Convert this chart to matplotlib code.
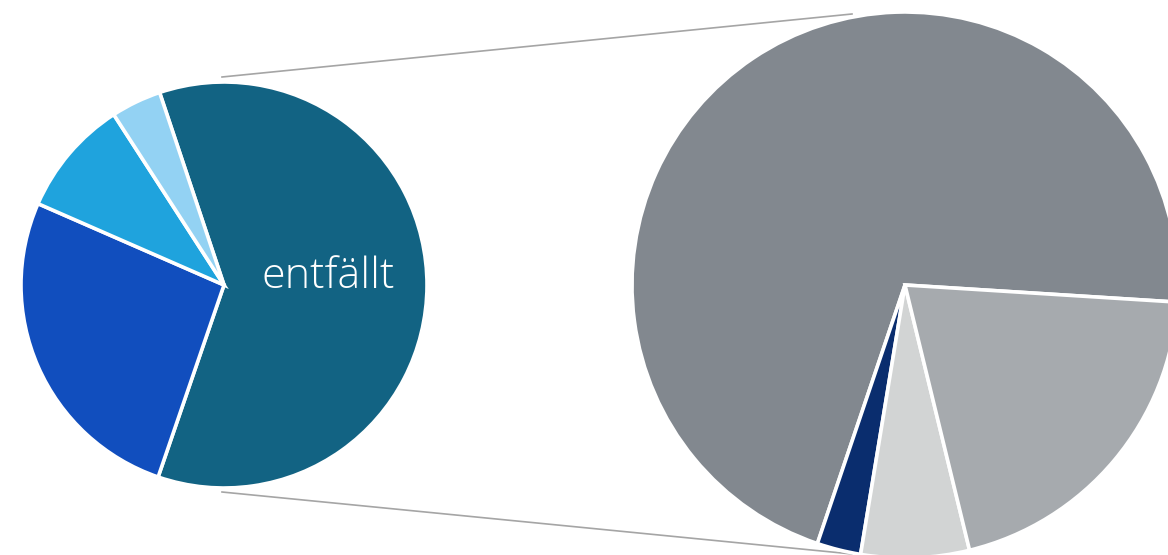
import matplotlib.pyplot as plt

# Left pie (main) shares, clockwise from the top
left_labels = ["entfällt", "Teil 2", "Teil 3", "Teil 4"]
left_values = [60.4, 26.3, 9.3, 4.0]
left_colors = ["#126383", "#114EBE", "#1FA3DD", "#93D2F3"]

# Right pie (breakdown) shares, counter-clockwise from the right
right_values = [70.8, 2.6, 6.4, 20.2]
right_colors = ["#82888F", "#0A2D6E", "#D2D4D4", "#A6AAAE"]

W, H = 1168, 555
fig = plt.figure(figsize=(W / 100, H / 100), dpi=100)
ax = fig.add_axes([0, 0, 1, 1])

wedge_style = dict(edgecolor="white", linewidth=2.6)

# connector lines between the two pies
ax.plot([222, 852], [H - 77, H - 14], color="#A5A5A5", lw=1.2, zorder=1)
ax.plot([222, 852], [H - 492, H - 554], color="#A5A5A5", lw=1.2, zorder=1)

ax.pie(left_values, colors=left_colors, center=(224, H - 285), radius=203,
       startangle=108.5, counterclock=False, wedgeprops=wedge_style, frame=True)
ax.pie(right_values, colors=right_colors, center=(905, H - 285), radius=273,
       startangle=-3.6, counterclock=True, wedgeprops=wedge_style, frame=True)

ax.set_xlim(0, W)
ax.set_ylim(0, H)
ax.set_aspect("equal")
ax.axis("off")

ax.text(328, H - 277, left_labels[0], color="white", fontsize=31,
        family=["Open Sans", "DejaVu Sans"], fontweight="light",
        ha="center", va="center")

fig.savefig("out.png", dpi=100)
